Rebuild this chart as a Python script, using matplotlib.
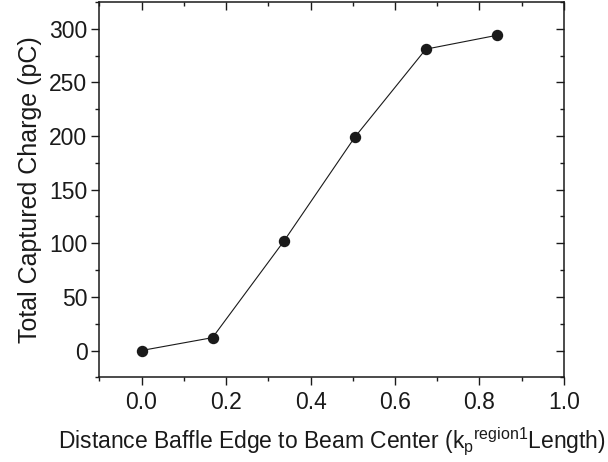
import matplotlib
matplotlib.use("Agg")
import matplotlib.pyplot as plt
from matplotlib.ticker import MultipleLocator

# Data
distance = [0.0, 0.168, 0.337, 0.505, 0.673, 0.842]
charge = [0, 12, 102, 199, 281, 294]
xticks = [0.0, 0.2, 0.4, 0.6, 0.8, 1.0]
xtick_labels = ['0.0', '0.2', '0.4', '0.6', '0.8', '1.0']

plt.rcParams['font.family'] = ['Liberation Sans', 'DejaVu Sans']
plt.rcParams['mathtext.fontset'] = 'custom'
plt.rcParams['mathtext.rm'] = 'Liberation Sans'
plt.rcParams['mathtext.it'] = 'Liberation Sans'

ink = '#1a1a1a'
fig = plt.figure(figsize=(6.08, 4.62), dpi=100)
ax = fig.add_axes([0.1633, 0.1833, 0.7643, 0.8124])

ax.plot(distance, charge, '-', color=ink, linewidth=0.8,
        marker='o', markersize=7.2, markerfacecolor=ink, markeredgecolor=ink)

ax.set_xlim(-0.1, 1.0)
ax.set_ylim(-25, 325)
ax.xaxis.set_minor_locator(MultipleLocator(0.1))
ax.yaxis.set_major_locator(MultipleLocator(50))
ax.yaxis.set_minor_locator(MultipleLocator(25))
ax.set_xticks(xticks)
ax.set_xticklabels(xtick_labels)

for s in ax.spines.values():
    s.set_linewidth(1.1)
    s.set_color(ink)

ax.tick_params(which='both', direction='out', top=True, right=True, width=1.0, color=ink,
               labelsize=16.5, labelcolor=ink)
ax.tick_params(which='major', length=5.5)
ax.tick_params(which='minor', length=3)
ax.tick_params(axis='x', which='major', pad=4)
ax.tick_params(axis='y', which='major', pad=3)
# top/right ticks point inward like the original
for t in ax.xaxis.get_major_ticks() + ax.xaxis.get_minor_ticks():
    t.tick2line.set_marker(3)
for t in ax.yaxis.get_major_ticks() + ax.yaxis.get_minor_ticks():
    t.tick2line.set_marker(0)

ax.set_ylabel('Total Captured Charge (pC)', fontsize=18, color=ink, labelpad=5)
ax.set_xlabel(r'Distance Baffle Edge to Beam Center (k$_p$$^{region1}$Length)',
              fontsize=16.5, color=ink, labelpad=9)

fig.savefig('out.png', dpi=100)
